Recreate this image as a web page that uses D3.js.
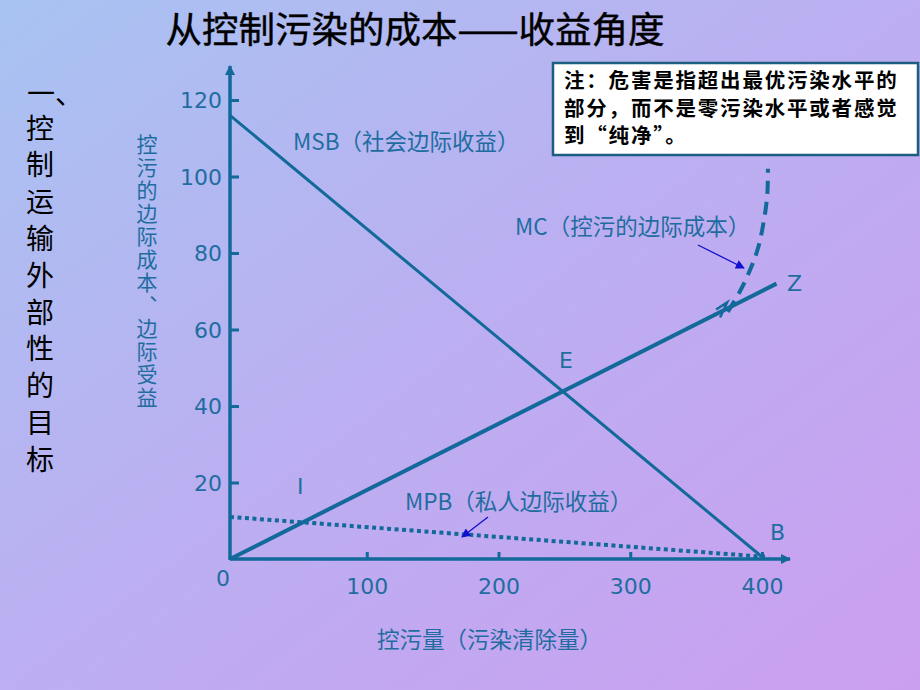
<!DOCTYPE html>
<html>
<head>
<meta charset="utf-8">
<script src="https://cdn.jsdelivr.net/npm/d3@7"></script>
<style>
  body { margin: 0; }
  svg { display: block; }
</style>
</head>
<body>
<div id="app"></div>
<script>
// data
const msb = [[0, 116], [402, 0]]
const mc = [[0, 0], [411, 72]]
const mpb = [[0, 11], [405, 0.5]]
const mcCurve = [[374, 64.6], [383, 69.8], [391, 75.6], [397, 81.3], [401.5, 88.6], [404, 95.2], [404.5, 102]]
const xTicks = [100, 200, 300, 400]
const yTicks = [20, 40, 60, 80, 100, 120]
const pointLabels = [
  { t: "E", x: 246, y: 50 },
  { t: "I", x: 47, y: 17 },
  { t: "B", x: 406, y: 5 },
  { t: "Z", x: 419, y: 70 }
]
const sideText = "控制运输外部性的目标"
const yLabel = "控污的边际成本、边际受益"
const noteLines = ["注：危害是指超出最优污染水平的", "部分，而不是零污染水平或者感觉", "到“纯净”。"]

const width = 920
const height = 690
const teal = "#12699a"
const textCol = "#1f6da0"
const cjk = "'Noto Sans CJK SC', sans-serif"
const latin = "'DejaVu Sans', sans-serif"

const x = d3.scaleLinear().domain([0, 400]).range([235, 762])
const y = d3.scaleLinear().domain([0, 120]).range([559, 100])
const ax = 230

const svg = d3.select('#app').append('svg')
  .attr('width', width).attr('height', height)

const defs = svg.append('defs')
const grad = defs.append('linearGradient').attr('id', 'bg')
  .attr('x1', 0).attr('y1', 0).attr('x2', 1).attr('y2', 1)
grad.append('stop').attr('offset', 0).attr('stop-color', '#a8c3f2')
grad.append('stop').attr('offset', 0.5).attr('stop-color', '#bcaef1')
grad.append('stop').attr('offset', 1).attr('stop-color', '#cb9ff0')

const mk = (id, col, w, h) => defs.append('marker').attr('id', id)
  .attr('viewBox', '0 0 10 10').attr('refX', 9).attr('refY', 5)
  .attr('markerWidth', w).attr('markerHeight', h).attr('orient', 'auto')
  .attr('markerUnits', 'userSpaceOnUse')
  .append('path').attr('d', 'M0,0L10,5L0,10z').attr('fill', col)
mk('axArrow', teal, 12, 10)
mk('blueArrow', '#1010d0', 11, 9)

svg.append('rect').attr('width', width).attr('height', height).attr('fill', 'url(#bg)')

// title
svg.append('text').attr('x', 415).attr('y', 43).attr('text-anchor', 'middle')
  .attr('font-family', cjk).attr('font-size', 36.5).attr('fill', '#000')
  .attr('stroke', '#000').attr('stroke-width', 0.4)
  .text("从控制污染的成本——收益角度")

// left side vertical text
svg.append('text').attr('x', 27).attr('y', 104).attr('font-family', cjk)
  .attr('font-size', 28).attr('fill', '#000').text("一、")
svg.append('text').attr('x', 40).attr('y', 114)
  .style('writing-mode', 'vertical-rl').style('letter-spacing', '8.8px')
  .attr('font-family', cjk).attr('font-size', 28).attr('fill', '#000').text(sideText)

// y label vertical
svg.append('text').attr('x', 147).attr('y', 134)
  .style('writing-mode', 'vertical-rl').style('letter-spacing', '2px')
  .attr('font-family', cjk).attr('font-size', 21).attr('fill', textCol).text(yLabel)

// axes
const yAxis = svg.append('g').attr('transform', `translate(${ax},0)`)
  .call(d3.axisLeft(y).tickValues(yTicks).tickSizeInner(-9).tickSizeOuter(0).tickPadding(8))
yAxis.select('.domain').remove()
const xAxis = svg.append('g').attr('transform', `translate(0,${y(0)})`)
  .call(d3.axisBottom(x).tickValues(xTicks).tickSizeInner(-7).tickSizeOuter(0).tickPadding(19))
xAxis.select('.domain').remove()
svg.selectAll('.tick line').attr('stroke', teal).attr('stroke-width', 3)
svg.selectAll('.tick text').attr('fill', textCol).attr('font-family', latin).attr('font-size', 22)
xAxis.selectAll('.tick text').attr('dy', '0.71em')
yAxis.selectAll('.tick text').attr('dy', '0.36em')

svg.append('line').attr('x1', ax).attr('y1', y(0) + 1).attr('x2', ax).attr('y2', 66)
  .attr('stroke', teal).attr('stroke-width', 3.5).attr('marker-end', 'url(#axArrow)')
svg.append('line').attr('x1', ax).attr('y1', y(0)).attr('x2', 790).attr('y2', y(0))
  .attr('stroke', teal).attr('stroke-width', 3.5).attr('marker-end', 'url(#axArrow)')

svg.append('text').attr('x', 223).attr('y', 586).attr('text-anchor', 'middle')
  .attr('font-family', latin).attr('font-size', 22).attr('fill', textCol).text("0")

const line = d3.line().x(d => d[0] === 0 ? ax : x(d[0])).y(d => y(d[1]))

svg.append('path').attr('d', line(msb)).attr('fill', 'none')
  .attr('stroke', teal).attr('stroke-width', 3)
svg.append('path').attr('d', line(mc)).attr('fill', 'none')
  .attr('stroke', teal).attr('stroke-width', 4)
svg.append('path').attr('d', line(mpb)).attr('fill', 'none')
  .attr('stroke', teal).attr('stroke-width', 4).attr('stroke-dasharray', '4,3.5')
svg.append('path').attr('d', d3.line().curve(d3.curveCatmullRom).x(d => x(d[0])).y(d => y(d[1]))(mcCurve))
  .attr('fill', 'none').attr('stroke', teal).attr('stroke-width', 4).attr('stroke-dasharray', '13,8')

// small arrowhead on MC line
const hx = x(372), hy = y(65.5)
svg.append('path').attr('d', `M${hx - 9},${hy + 1}L${hx + 2},${hy - 6}L${hx - 5},${hy + 9}`)
  .attr('fill', 'none').attr('stroke', teal).attr('stroke-width', 2.5)

// curve labels
const lab = (t, px, py) => svg.append('text').attr('x', px).attr('y', py)
  .attr('font-family', cjk).attr('font-size', 22.5).attr('fill', textCol).text(t)
lab("MSB（社会边际收益）", 293, 150)
lab("MC（控污的边际成本）", 515, 235)
lab("MPB（私人边际收益）", 405, 510)
lab("控污量（污染清除量）", 377, 648)

svg.append('line').attr('x1', 698).attr('y1', 245).attr('x2', 744).attr('y2', 268)
  .attr('stroke', '#1010d0').attr('stroke-width', 1.3).attr('marker-end', 'url(#blueArrow)')
svg.append('line').attr('x1', 488).attr('y1', 517).attr('x2', 462).attr('y2', 537)
  .attr('stroke', '#1010d0').attr('stroke-width', 1.3).attr('marker-end', 'url(#blueArrow)')

svg.append('g').selectAll('text').data(pointLabels).join('text')
  .attr('x', d => x(d.x)).attr('y', d => y(d.y))
  .attr('font-family', latin).attr('font-size', 22).attr('fill', textCol).text(d => d.t)

// note box
svg.append('rect').attr('x', 553).attr('y', 63).attr('width', 365).attr('height', 92)
  .attr('fill', '#fff').attr('stroke', '#1b5e80').attr('stroke-width', 2.5)
svg.append('g').selectAll('text').data(noteLines).join('text')
  .attr('x', 564).attr('y', (d, i) => 88 + i * 27.5)
  .attr('font-family', cjk).attr('font-weight', 'bold').attr('font-size', 20.5)
  .style('letter-spacing', '1.8px')
  .attr('fill', '#000').text(d => d)
</script>
</body>
</html>
